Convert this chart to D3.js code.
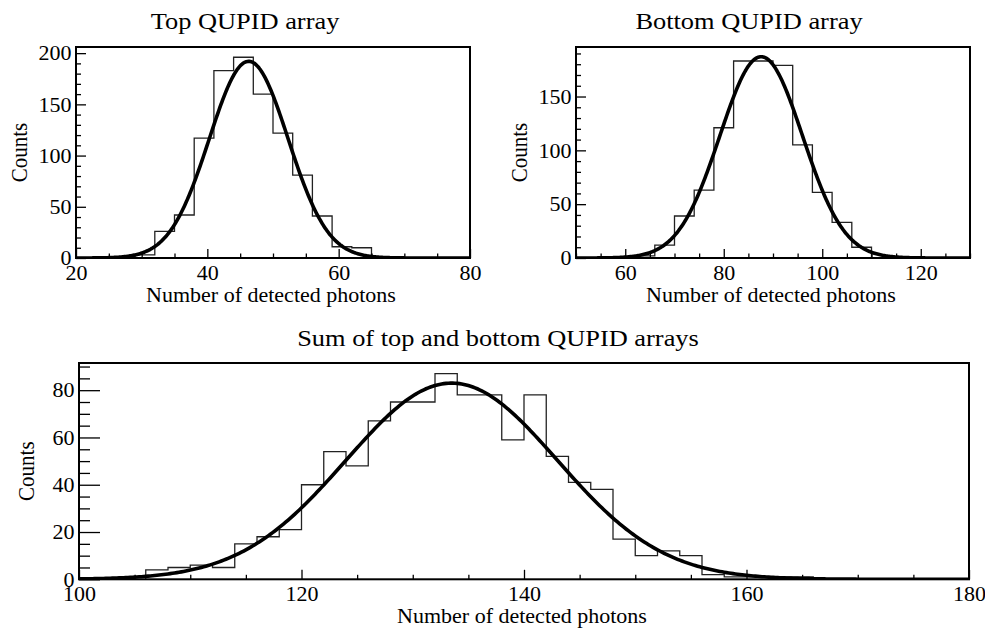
<!DOCTYPE html>
<html>
<head>
<meta charset="utf-8">
<script src="https://cdn.jsdelivr.net/npm/d3@7"></script>
<style>
  html, body { margin: 0; padding: 0; background: #fff; }
  svg { display: block; }
  svg text { font-family: "Liberation Serif", "Times New Roman", serif; }
</style>
</head>
<body>
<svg id="chart" width="985" height="630"></svg>
<script>
// Photon-count histograms (bin lower edges + counts) and their Gaussian fits
const topBinLow = [29, 32, 35, 38, 41, 44, 47, 50, 53, 56, 59, 62];
const topCounts = [3, 26, 42, 117, 183, 196, 160, 122, 81, 41, 11, 10];
const topBinWidth = 3;
const topFit = { amp: 192, mean: 46.3, sigma: 6.0 };

const bottomBinLow = [62, 66, 70, 74, 78, 82, 86, 90, 94, 98, 102, 106];
const bottomCounts = [2, 12, 39, 63, 121, 183, 183, 179, 105, 61, 33, 10];
const bottomBinWidth = 4;
const bottomFit = { amp: 187, mean: 87.6, sigma: 8.4 };

const sumBinLow = [106, 108, 110, 112, 114, 116, 118, 120, 122, 124, 126, 128, 130, 132, 134,
                   136, 138, 140, 142, 144, 146, 148, 150, 152, 154, 156, 158, 160, 162, 164];
const sumCounts = [4, 5, 6, 5, 15, 18, 21, 40, 54, 48, 67, 75, 75, 87, 78,
                   78, 59, 78, 52, 41, 38, 17, 10, 12, 10, 2, 1, 1, 1, 1];
const sumBinWidth = 2;
const sumFit = { amp: 83, mean: 133.5, sigma: 9.5 };

// Axis tick values
const topXTicks = [20, 40, 60, 80];
const topYTicks = [0, 50, 100, 150, 200];
const bottomXTicks = [60, 80, 100, 120];
const bottomYTicks = [0, 50, 100, 150];
const sumXTicks = [100, 120, 140, 160, 180];
const sumYTicks = [0, 20, 40, 60, 80];

const panels = [
  { title: "Top QUPID array", binLow: topBinLow, counts: topCounts, width: topBinWidth, fit: topFit,
    xDomain: [20, 80], yMax: 206, xTicks: topXTicks, yTicks: topYTicks, xMinorStep: 5, yMinorStep: 10,
    box: { x0: 76, x1: 470, y0: 47, y1: 258 }, titleX: 245, titleY: 29, yTitleX: 19,
    majorY: 10, minorY: 5, majorX: 9, minorX: 4.5 },
  { title: "Bottom QUPID array", binLow: bottomBinLow, counts: bottomCounts, width: bottomBinWidth, fit: bottomFit,
    xDomain: [50, 130], yMax: 196, xTicks: bottomXTicks, yTicks: bottomYTicks, xMinorStep: 5, yMinorStep: 10,
    box: { x0: 576, x1: 970, y0: 47, y1: 258 }, titleX: 749, titleY: 29, yTitleX: 519,
    majorY: 10, minorY: 5, majorX: 9, minorX: 4.5 },
  { title: "Sum of top and bottom QUPID arrays", binLow: sumBinLow, counts: sumCounts, width: sumBinWidth, fit: sumFit,
    xDomain: [100, 180], yMax: 91.5, xTicks: sumXTicks, yTicks: sumYTicks, xMinorStep: 5, yMinorStep: 5,
    box: { x0: 79, x1: 969, y0: 363, y1: 579.3 }, titleX: 498, titleY: 346, yTitleX: 26,
    majorY: 21, minorY: 11, majorX: 9.5, minorX: 4.5 }
];

const SX = 1.1; // horizontal glyph stretch
const svg = d3.select("#chart");

function label(g, x, y, text, size, anchor, rotate) {
  const t = g.append("text")
    .attr("transform", `translate(${x},${y}) scale(${SX},1)` + (rotate ? " rotate(-90)" : ""))
    .attr("text-anchor", anchor)
    .attr("font-size", size)
    .attr("fill", "#000")
    .text(text);
  if (rotate) t.attr("dy", "0.33em");
  return t;
}

function minorValues(domain, step, majors) {
  const out = [];
  for (let v = Math.ceil(domain[0] / step) * step; v <= domain[1] + 1e-9; v += step) {
    if (!majors.some(m => Math.abs(m - v) < 1e-9)) out.push(v);
  }
  return out;
}

panels.forEach(p => {
  const b = p.box;
  const x = d3.scaleLinear().domain(p.xDomain).range([b.x0, b.x1]);
  const y = d3.scaleLinear().domain([0, p.yMax]).range([b.y1, b.y0]);
  const g = svg.append("g");

  // Clip for marks inside the frame
  const clipId = "clip" + b.x0 + "_" + b.y0;
  svg.append("clipPath").attr("id", clipId)
    .append("rect").attr("x", b.x0).attr("y", b.y0).attr("width", b.x1 - b.x0).attr("height", b.y1 - b.y0);

  // Histogram outline
  const pts = [[p.binLow[0], 0]];
  p.counts.forEach((c, i) => {
    pts.push([p.binLow[i], c]);
    pts.push([p.binLow[i] + p.width, c]);
  });
  pts.push([p.binLow[p.binLow.length - 1] + p.width, 0]);
  const hLine = d3.line().x(d => x(d[0])).y(d => y(d[1]));
  g.append("path").attr("d", hLine(pts))
    .attr("fill", "none").attr("stroke", "#222").attr("stroke-width", 1.3)
    .attr("clip-path", `url(#${clipId})`);

  // Gaussian fit curve
  const f = p.fit;
  const xs = d3.range(p.xDomain[0], p.xDomain[1] + 1e-9, (p.xDomain[1] - p.xDomain[0]) / 400);
  const fitPts = xs.map(v => [v, f.amp * Math.exp(-((v - f.mean) ** 2) / (2 * f.sigma * f.sigma))]);
  g.append("path").attr("d", d3.line().x(d => x(d[0])).y(d => y(d[1]))(fitPts))
    .attr("fill", "none").attr("stroke", "#000").attr("stroke-width", 3.6)
    .attr("stroke-linejoin", "round")
    .attr("clip-path", `url(#${clipId})`);

  // Frame
  g.append("rect").attr("x", b.x0).attr("y", b.y0)
    .attr("width", b.x1 - b.x0).attr("height", b.y1 - b.y0)
    .attr("fill", "none").attr("stroke", "#000").attr("stroke-width", 2);

  // X axis: major and minor ticks pointing into the frame
  const xMajor = g.append("g").attr("transform", `translate(0,${b.y1})`)
    .call(d3.axisBottom(x).tickValues(p.xTicks).tickSizeInner(-p.majorX).tickSizeOuter(0).tickPadding(0));
  const xMinor = g.append("g").attr("transform", `translate(0,${b.y1})`)
    .call(d3.axisBottom(x).tickValues(minorValues(p.xDomain, p.xMinorStep, p.xTicks))
      .tickSizeInner(-p.minorX).tickSizeOuter(0).tickFormat(""));
  [xMajor, xMinor].forEach(a => {
    a.attr("font-family", null).attr("font-size", null);
    a.select(".domain").remove();
    a.selectAll("line").attr("stroke", "#000").attr("stroke-width", 1.3);
  });
  xMajor.selectAll("text")
    .attr("y", null).attr("dy", null)
    .attr("transform", `translate(0,21.5) scale(${SX},1)`)
    .attr("font-size", 20).attr("fill", "#000");

  // Y axis
  const yMajor = g.append("g").attr("transform", `translate(${b.x0},0)`)
    .call(d3.axisLeft(y).tickValues(p.yTicks).tickSizeInner(-p.majorY).tickSizeOuter(0).tickPadding(0));
  const yMinor = g.append("g").attr("transform", `translate(${b.x0},0)`)
    .call(d3.axisLeft(y).tickValues(minorValues([0, p.yMax], p.yMinorStep, p.yTicks))
      .tickSizeInner(-p.minorY).tickSizeOuter(0).tickFormat(""));
  [yMajor, yMinor].forEach(a => {
    a.attr("font-family", null).attr("font-size", null);
    a.select(".domain").remove();
    a.selectAll("line").attr("stroke", "#000").attr("stroke-width", 1.3);
  });
  yMajor.selectAll("text")
    .attr("x", null).attr("dy", "0.34em")
    .attr("transform", `translate(-4.5,0) scale(${SX},1)`)
    .attr("text-anchor", "end")
    .attr("font-size", 20).attr("fill", "#000");

  // Titles
  label(g, p.titleX, p.titleY, p.title, 24, "middle", false);
  label(g, (b.x0 + b.x1) / 2 - 2, b.y1 + 44, "Number of detected photons", 20, "middle", false);
  label(g, p.yTitleX, (b.y0 + b.y1) / 2, "Counts", 21, "middle", true);
});
</script>
</body>
</html>
